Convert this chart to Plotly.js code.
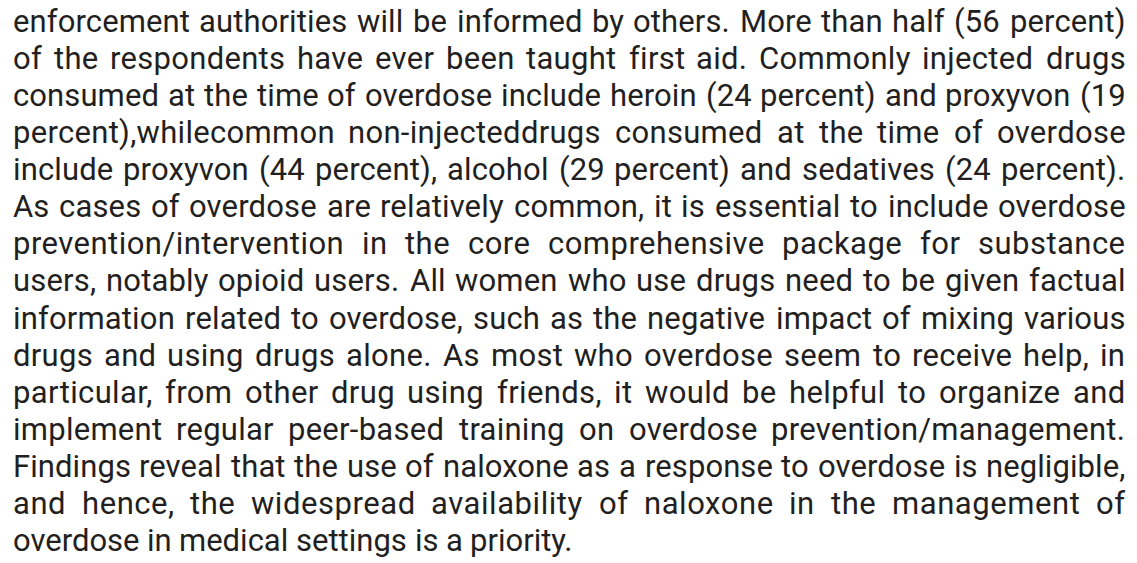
<!DOCTYPE html>
<html>
<head>
<meta charset="utf-8">
<script src="https://cdn.plot.ly/plotly-3.0.1.min.js"></script>
<style>
  html, body { margin: 0; padding: 0; background: #ffffff; }
  #chart { width: 1137px; height: 563px; }
</style>
</head>
<body>
<div id="chart"></div>
<script>
// ---- Text content (one entry per printed line) ----
const textLines = [
  "enforcement authorities will be informed by others. More than half (56 percent)",
  "of the respondents have ever been taught first aid. Commonly injected drugs",
  "consumed at the time of overdose include heroin (24 percent) and proxyvon (19",
  "percent),whilecommon non-injecteddrugs consumed at the time of overdose",
  "include proxyvon (44 percent), alcohol (29 percent) and sedatives (24 percent).",
  "As cases of overdose are relatively common, it is essential to include overdose",
  "prevention/intervention in the core comprehensive package for substance",
  "users, notably opioid users. All women who use drugs need to be given factual",
  "information related to overdose, such as the negative impact of mixing various",
  "drugs and using drugs alone. As most who overdose seem to receive help, in",
  "particular, from other drug using friends, it would be helpful to organize and",
  "implement regular peer-based training on overdose prevention/management.",
  "Findings reveal that the use of naloxone as a response to overdose is negligible,",
  "and hence, the widespread availability of naloxone in the management of",
  "overdose in medical settings is a priority."
];

// ---- Styling ----
const W = 1137, H = 563;
const FONT_FAMILY = "Roboto";
const TEXT_COLOR = "#231f20";
const LEFT = 12.7, RIGHT = 1125.5;
const FIRST_BASELINE = 33, LINE_STEP = 37.1;
const LAST_LINE_WIDTH = 561;

const canvas = document.createElement("canvas");
const ctx = canvas.getContext("2d");
function measure(str, size, ls) {
  ctx.font = size + "px '" + FONT_FAMILY + "'";
  return ctx.measureText(str).width + (ls || 0) * str.length;
}
const FONT_SIZE = Math.round(LAST_LINE_WIDTH / measure(textLines[textLines.length - 1], 100) * 100 * 10) / 10;
const SPACE = measure(" ", FONT_SIZE);

const annotations = [];
textLines.forEach(function (line, i) {
  const words = line.split(" ");
  const isLast = i === textLines.length - 1;
  const chars = words.reduce(function (a, w) { return a + w.length; }, 0);
  const base = words.reduce(function (a, w) { return a + measure(w, FONT_SIZE); }, 0);
  const natural = base + SPACE * (words.length - 1);
  const target = RIGHT - LEFT;
  let ls = 0, gap = SPACE;
  if (!isLast) {
    const slack = target - natural;
    ls = Math.max(-1.2, Math.min(0.9, 0.3 * slack / chars));
    gap = (target - base - ls * chars) / Math.max(1, words.length - 1);
    if (gap < 0.7 * SPACE) {
      gap = 0.7 * SPACE;
      ls = (target - gap * (words.length - 1) - base) / chars;
    }
  }
  const yc = FIRST_BASELINE + i * LINE_STEP - 0.38 * FONT_SIZE;
  let x = LEFT;
  words.forEach(function (w) {
    const txt = Math.abs(ls) > 0.01 ? '<span style="letter-spacing:' + ls.toFixed(2) + 'px">' + w + '</span>' : w;
    annotations.push({
      x: x, y: yc, xref: "x", yref: "y",
      xanchor: "left", yanchor: "middle",
      text: txt, showarrow: false,
      borderpad: 0, borderwidth: 0,
      font: { family: FONT_FAMILY, size: FONT_SIZE, color: TEXT_COLOR }
    });
    x += measure(w, FONT_SIZE, ls) + gap;
  });
});

const layout = {
  width: W, height: H,
  margin: { l: 0, r: 0, t: 0, b: 0, pad: 0 },
  paper_bgcolor: "#ffffff", plot_bgcolor: "#ffffff",
  showlegend: false,
  xaxis: { range: [0, W], visible: false, fixedrange: true },
  yaxis: { range: [H, 0], visible: false, fixedrange: true },
  annotations: annotations
};

Plotly.newPlot("chart", [], layout, { staticPlot: true, displayModeBar: false });
</script>
</body>
</html>
